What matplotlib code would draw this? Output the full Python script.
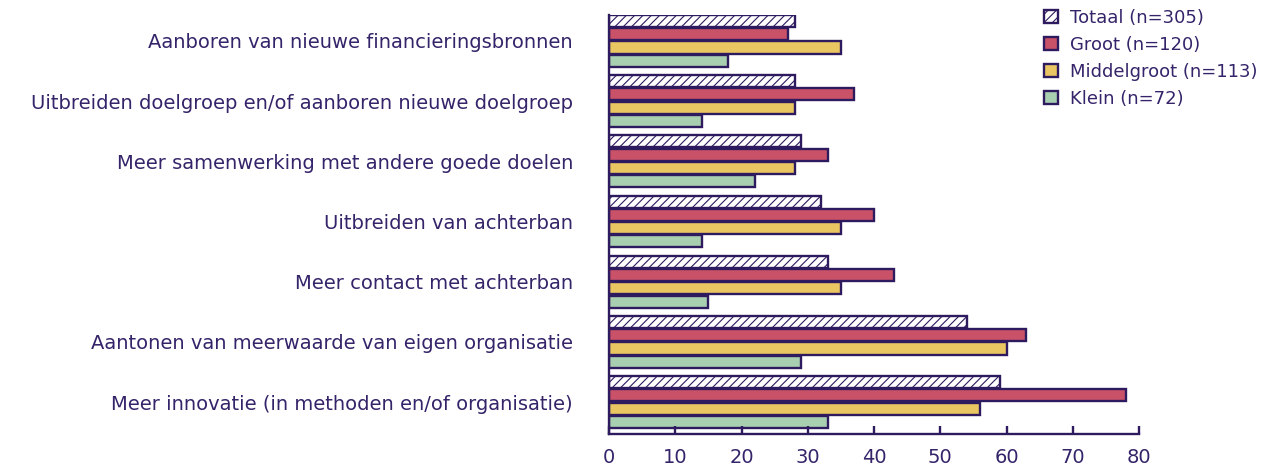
import matplotlib
matplotlib.use("Agg")
import matplotlib.pyplot as plt
import numpy as np

categories = [
    "Aanboren van nieuwe financieringsbronnen",
    "Uitbreiden doelgroep en/of aanboren nieuwe doelgroep",
    "Meer samenwerking met andere goede doelen",
    "Uitbreiden van achterban",
    "Meer contact met achterban",
    "Aantonen van meerwaarde van eigen organisatie",
    "Meer innovatie (in methoden en/of organisatie)",
]
series_names = ["Totaal (n=305)", "Groot (n=120)", "Middelgroot (n=113)", "Klein (n=72)"]
totaal = [28, 28, 29, 32, 33, 54, 59]
groot = [27, 37, 33, 40, 43, 63, 78]
middelgroot = [35, 28, 28, 35, 35, 60, 56]
klein = [18, 14, 22, 14, 15, 29, 33]
xticks = [0, 10, 20, 30, 40, 50, 60, 70, 80]

dark = "#2e1a5e"
text_c = "#35246a"
colors = ["white", "#c95168", "#e9c662", "#a8cfaf"]
hatches = ["////", None, None, None]

plt.rcParams['font.family'] = ['DejaVu Sans']
plt.rcParams['hatch.color'] = dark
plt.rcParams['hatch.linewidth'] = 0.8

fig = plt.figure(figsize=(12.83, 4.69), dpi=100)
ax = fig.add_axes([609/1283, (469-434)/469, (1139-609)/1283, (434-15)/469])

n = len(categories)
centers = np.arange(n)[::-1].astype(float)
step = 0.22
h = 0.2
offsets = [1.5*step, 0.5*step, -0.5*step, -1.5*step]
data = [totaal, groot, middelgroot, klein]
handles = []
for vals, off, col, hat, name in zip(data, offsets, colors, hatches, series_names):
    b = ax.barh(centers + off, vals, height=h, color=col, edgecolor=dark,
                linewidth=1.7, hatch=hat, label=name)
    handles.append(b)

ax.set_xlim(0, 80)
ax.set_ylim(-0.53, 6.43)
ax.set_yticks(centers)
ax.set_yticklabels(categories, fontsize=14, color=text_c)
ax.set_xticks(xticks)
ax.set_xticklabels([str(t) for t in xticks], fontsize=14, color=text_c)
ax.tick_params(axis='y', length=0, pad=26)
ax.tick_params(axis='x', direction='in', length=6, width=1.7, color=dark, pad=10)
for s in ['top', 'right']:
    ax.spines[s].set_visible(False)
for s in ['left', 'bottom']:
    ax.spines[s].set_color(dark)
    ax.spines[s].set_linewidth(1.7)

leg = fig.legend(handles=handles, labels=series_names, loc='upper left',
                 bbox_to_anchor=(1028/1283, 1.016), frameon=False, fontsize=13,
                 handlelength=0.75, handleheight=0.75, handletextpad=0.7,
                 labelspacing=0.5, labelcolor=text_c)

fig.savefig("out.png", dpi=100)
